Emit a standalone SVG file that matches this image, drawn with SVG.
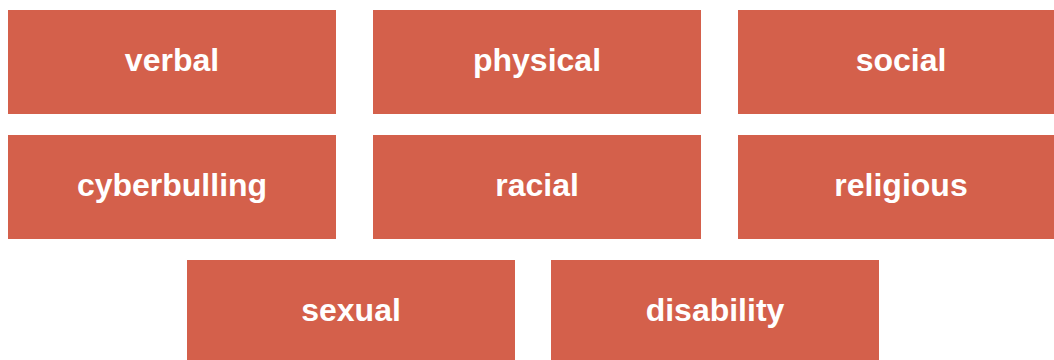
<svg xmlns="http://www.w3.org/2000/svg" width="1054" height="360" viewBox="0 0 1054 360">
<style>
.b{fill:#D4604B}
.t{fill:#fff;font-family:"Liberation Sans",Arial,sans-serif;font-weight:bold;font-size:32px;text-anchor:middle;dominant-baseline:central}
</style>
<rect width="1054" height="360" fill="#fff"/>
<g id="verbal"><rect class="b" x="8" y="10" width="328" height="104"/><text class="t" x="172" y="60">verbal</text></g>
<g id="physical"><rect class="b" x="373" y="10" width="328" height="104"/><text class="t" x="537" y="60">physical</text></g>
<g id="social"><rect class="b" x="738" y="10" width="328" height="104"/><text class="t" x="901" y="60">social</text></g>
<g id="cyberbulling"><rect class="b" x="8" y="135" width="328" height="104"/><text class="t" x="172" y="185">cyberbulling</text></g>
<g id="racial"><rect class="b" x="373" y="135" width="328" height="104"/><text class="t" x="537" y="185">racial</text></g>
<g id="religious"><rect class="b" x="738" y="135" width="328" height="104"/><text class="t" x="901" y="185">religious</text></g>
<g id="sexual"><rect class="b" x="187" y="260" width="328" height="104"/><text class="t" x="351" y="310">sexual</text></g>
<g id="disability"><rect class="b" x="551" y="260" width="328" height="104"/><text class="t" x="715" y="310">disability</text></g>
<g id="connectors"></g>
</svg>
